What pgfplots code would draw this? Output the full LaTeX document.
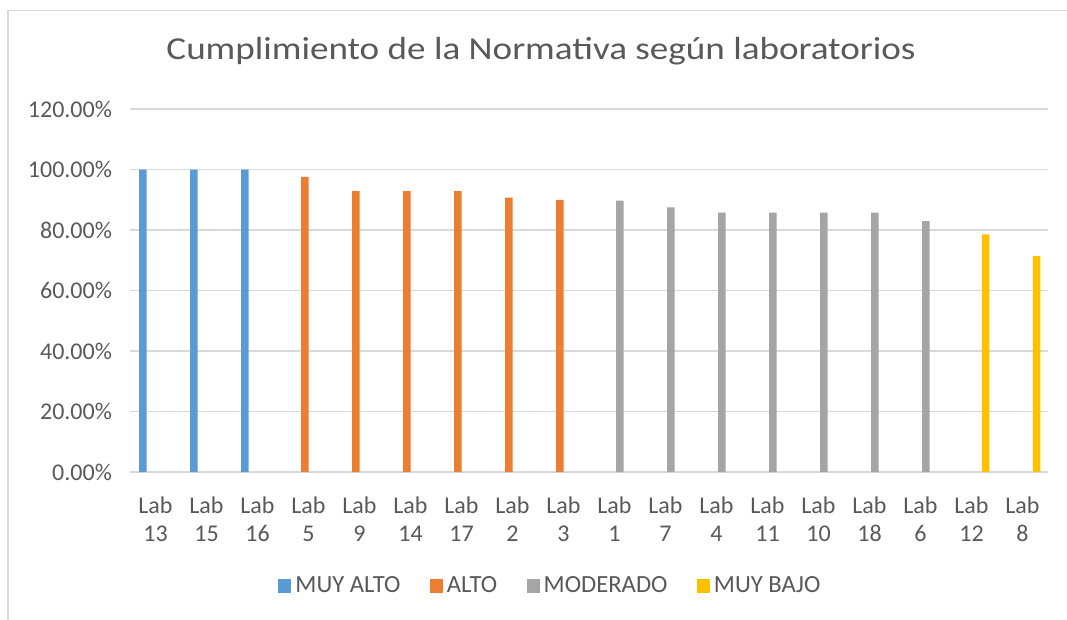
\documentclass[border=0pt]{standalone}
\usepackage{pgfplots}
\pgfplotsset{compat=1.18}
\usepackage{fontspec}
\setmainfont{Carlito}
\definecolor{txt}{HTML}{595959}
\definecolor{grd}{HTML}{D9D9D9}
\definecolor{cA}{HTML}{5B9BD5}
\definecolor{cB}{HTML}{ED7D31}
\definecolor{cC}{HTML}{A5A5A5}
\definecolor{cD}{HTML}{FFC000}
\begin{document}
\begin{tikzpicture}
\useasboundingbox (0pt,0pt) rectangle (800.25pt,-464.25pt);
\draw[grd, line width=1.2pt] (6pt,-618pt) -- (6pt,-8pt) -- (800.25pt,-8pt);
\node[txt, font=\fontsize{24pt}{28pt}\selectfont, anchor=base, xscale=1.16] at (405.75pt,-44.5pt) {Cumplimiento de la Normativa según laboratorios};
\begin{axis}[
  at={(97.5pt,-354pt)}, anchor=south west,
  scale only axis, width=688.5pt, height=272.25pt,
  xmin=-0.5, xmax=17.5, ymin=0, ymax=120,
  ytick={0,20,...,120},
  xtick={0,...,17},
  xticklabels={Lab\\13,Lab\\15,Lab\\16,Lab\\5,Lab\\9,Lab\\14,Lab\\17,Lab\\2,Lab\\3,Lab\\1,Lab\\7,Lab\\4,Lab\\11,Lab\\10,Lab\\18,Lab\\6,Lab\\12,Lab\\8},
  xticklabel style={align=center, font=\fontsize{18pt}{21pt}\selectfont, text=txt, yshift=-11pt},
  yticklabel={\pgfmathprintnumber[fixed,fixed zerofill,precision=2]{\tick}\%},
  yticklabel style={font=\fontsize{18pt}{21pt}\selectfont, text=txt, xshift=-10pt},
  /pgf/number format/assume math mode=true,
  ymajorgrids, grid style={grd, line width=1.2pt},
  axis line style={draw=none},
  major tick style={draw=none},
  ybar, bar width=5.6pt,
  legend style={at={(0.459,-0.314)}, anchor=center, draw=none, legend columns=-1,
    font=\fontsize{18.5pt}{21pt}\selectfont, text=txt,
    /tikz/every even column/.append style={column sep=19pt},
    nodes={inner xsep=3pt}},
  legend image code/.code={\fill[#1] (0pt,-4.9pt) rectangle (9.8pt,4.9pt);},
]
\addplot[fill=cA, draw=none, bar shift=-9.4pt] coordinates {(0,100) (1,100) (2,100)};
\addplot[fill=cB, draw=none, bar shift=-2.7pt] coordinates {(3,97.6) (4,92.86) (5,92.86) (6,92.86) (7,90.7) (8,90.0)};
\addplot[fill=cC, draw=none, bar shift=4.0pt] coordinates {(9,89.7) (10,87.5) (11,85.71) (12,85.71) (13,85.71) (14,85.71) (15,82.9)};
\addplot[fill=cD, draw=none, bar shift=10.65pt] coordinates {(16,78.57) (17,71.43)};
\legend{MUY ALTO,ALTO,MODERADO,MUY BAJO}
\end{axis}
\end{tikzpicture}
\end{document}
